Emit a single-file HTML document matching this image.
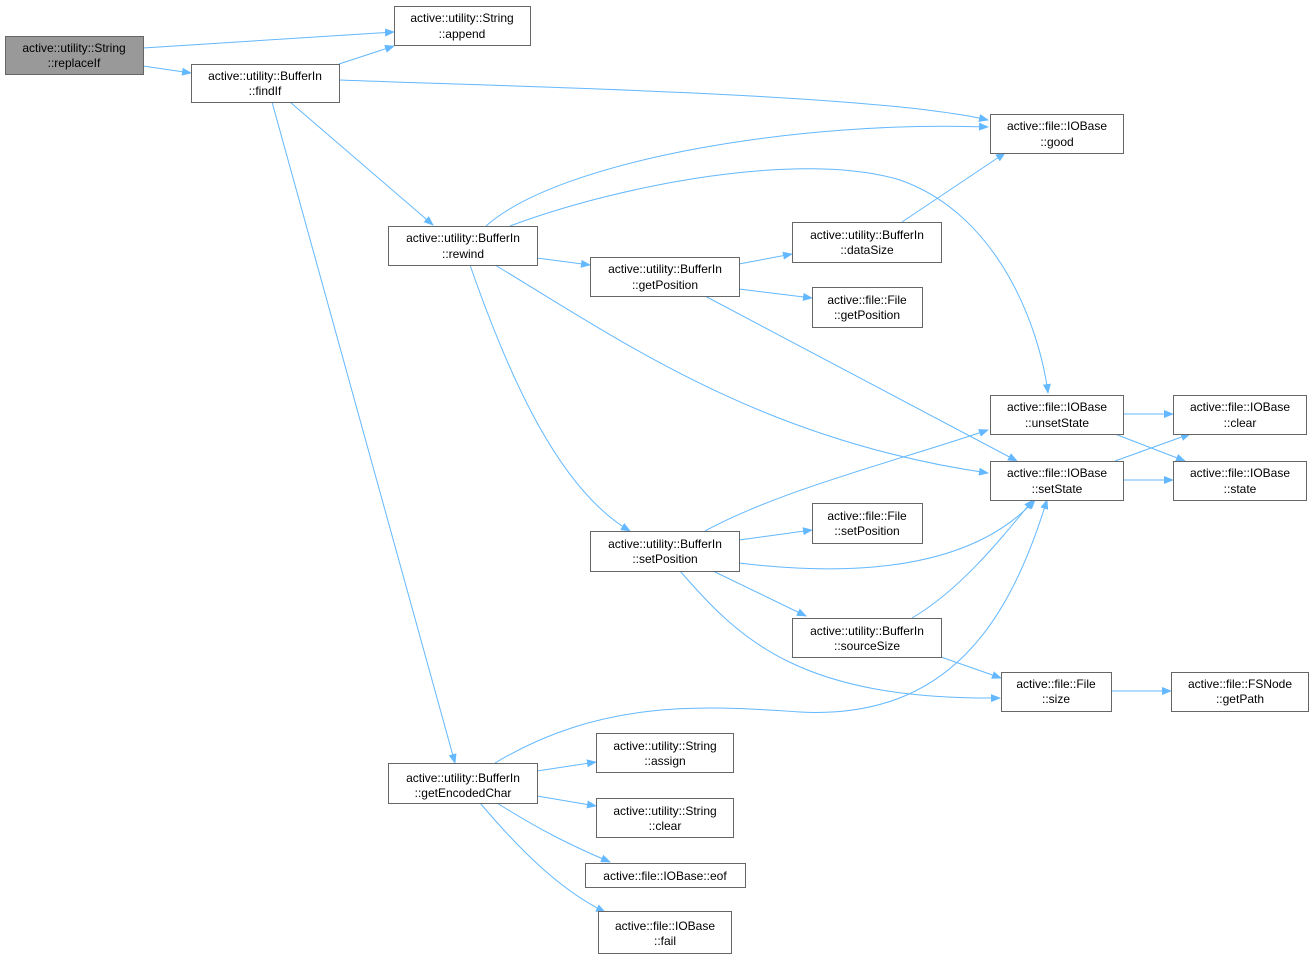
<!DOCTYPE html>
<html><head><meta charset="utf-8"><style>
html,body{margin:0;padding:0;background:#fff;}
svg text{font-family:"Liberation Sans",sans-serif;font-size:12px;fill:#000;text-anchor:middle;}
</style></head><body>
<svg width="1314" height="958" viewBox="0 0 1314 958" xmlns="http://www.w3.org/2000/svg">
<defs><marker id="a" markerWidth="10" markerHeight="8" refX="9" refY="4" orient="auto" markerUnits="userSpaceOnUse"><path d="M0,0 L10,4 L0,8 z" fill="#63b8ff"/></marker></defs>
<g fill="none" stroke="#63b8ff" stroke-width="1" marker-end="url(#a)">
<path d="M143,48 L394,32"/>
<path d="M143,66 L191,73"/>
<path d="M339,64 L394,46"/>
<path d="M339,80 C560,88 880,95 988,120"/>
<path d="M290,102 L433,225"/>
<path d="M272,102 L455,763"/>
<path d="M486,226 C560,160 800,120 988,127"/>
<path d="M510,226 C620,185 800,150 900,180 C1000,215 1040,330 1048,393"/>
<path d="M537,258 L590,265"/>
<path d="M495,265 C620,340 760,440 988,473"/>
<path d="M470,265 C510,380 560,490 630,531"/>
<path d="M739,264 L792,254"/>
<path d="M739,289 L812,298"/>
<path d="M705,296 L1017,461"/>
<path d="M902,222 L1005,153"/>
<path d="M1123,414 L1173,414"/>
<path d="M1115,434 L1185,461"/>
<path d="M1115,461 L1190,434"/>
<path d="M1123,480 L1173,480"/>
<path d="M705,531 C780,490 900,460 988,430"/>
<path d="M739,540 L812,530"/>
<path d="M739,563 C880,580 980,560 1035,500"/>
<path d="M713,571 L806,616"/>
<path d="M680,571 C740,640 800,700 1000,698"/>
<path d="M912,618 C960,590 1000,540 1033,500"/>
<path d="M941,657 L1001,678"/>
<path d="M1111,691 L1171,691"/>
<path d="M495,763 C600,700 700,705 800,712 C950,720 1010,620 1047,500"/>
<path d="M537,771 L596,762"/>
<path d="M537,796 L596,806"/>
<path d="M497,803 C540,830 570,845 610,862"/>
<path d="M480,803 C520,850 560,890 605,912"/>
</g>
<g stroke="#666" stroke-width="1" fill="#fff">
<rect x="5.5" y="36.5" width="138" height="38" fill="#999"/>
<rect x="394.5" y="6.5" width="136" height="39"/>
<rect x="191.5" y="64.5" width="148" height="38"/>
<rect x="990.5" y="114.5" width="133" height="39"/>
<rect x="388.5" y="226.5" width="149" height="39"/>
<rect x="792.5" y="222.5" width="149" height="40"/>
<rect x="590.5" y="257.5" width="149" height="39"/>
<rect x="812.5" y="287.5" width="110" height="40"/>
<rect x="990.5" y="395.5" width="133" height="39"/>
<rect x="1173.5" y="395.5" width="133" height="39"/>
<rect x="990.5" y="461.5" width="133" height="39"/>
<rect x="1173.5" y="461.5" width="133" height="39"/>
<rect x="812.5" y="503.5" width="110" height="40"/>
<rect x="590.5" y="531.5" width="149" height="40"/>
<rect x="792.5" y="618.5" width="149" height="39"/>
<rect x="1001.5" y="672.5" width="110" height="39"/>
<rect x="1171.5" y="672.5" width="137" height="39"/>
<rect x="388.5" y="763.5" width="149" height="40"/>
<rect x="596.5" y="733.5" width="137" height="39"/>
<rect x="596.5" y="798.5" width="137" height="39"/>
<rect x="585.5" y="863.5" width="160" height="24"/>
<rect x="598.5" y="911.5" width="133" height="42"/>
</g>
<text x="74" y="52">active::utility::String</text><text x="74" y="67">::replaceIf</text>
<text x="462" y="22">active::utility::String</text><text x="462" y="38">::append</text>
<text x="265" y="80">active::utility::BufferIn</text><text x="265" y="95">::findIf</text>
<text x="1057" y="130">active::file::IOBase</text><text x="1057" y="146">::good</text>
<text x="463" y="242">active::utility::BufferIn</text><text x="463" y="258">::rewind</text>
<text x="867" y="239">active::utility::BufferIn</text><text x="867" y="254">::dataSize</text>
<text x="665" y="273">active::utility::BufferIn</text><text x="665" y="289">::getPosition</text>
<text x="867" y="304">active::file::File</text><text x="867" y="319">::getPosition</text>
<text x="1057" y="411">active::file::IOBase</text><text x="1057" y="427">::unsetState</text>
<text x="1240" y="411">active::file::IOBase</text><text x="1240" y="427">::clear</text>
<text x="1057" y="477">active::file::IOBase</text><text x="1057" y="493">::setState</text>
<text x="1240" y="477">active::file::IOBase</text><text x="1240" y="493">::state</text>
<text x="867" y="520">active::file::File</text><text x="867" y="535">::setPosition</text>
<text x="665" y="548">active::utility::BufferIn</text><text x="665" y="563">::setPosition</text>
<text x="867" y="635">active::utility::BufferIn</text><text x="867" y="650">::sourceSize</text>
<text x="1056" y="688">active::file::File</text><text x="1056" y="703">::size</text>
<text x="1240" y="688">active::file::FSNode</text><text x="1240" y="703">::getPath</text>
<text x="463" y="782">active::utility::BufferIn</text><text x="463" y="797">::getEncodedChar</text>
<text x="665" y="750">active::utility::String</text><text x="665" y="765">::assign</text>
<text x="665" y="815">active::utility::String</text><text x="665" y="830">::clear</text>
<text x="665" y="880">active::file::IOBase::eof</text>
<text x="665" y="930">active::file::IOBase</text><text x="665" y="945">::fail</text>
</svg>
</body></html>
